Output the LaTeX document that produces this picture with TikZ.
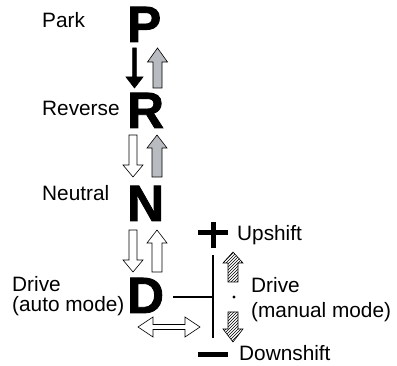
\documentclass[tikz,border=0pt]{standalone}
\usepackage{fontspec}
\setmainfont{Liberation Sans}
\newfontfamily\bigfont[FakeBold=1.6]{Liberation Sans Bold}
\usetikzlibrary{patterns}
\definecolor{arrgray}{HTML}{B8BCC0}
\newcommand{\varrow}[7]{%
  \draw[#1] ({#2-#6},#3) -- ({#2-#6},#4) -- ({#2-#7},#4) -- (#2,#5) -- ({#2+#7},#4) -- ({#2+#6},#4) -- ({#2+#6},#3) -- cycle;}
\tikzset{
  lbl/.style={inner sep=0pt, anchor=base west, font=\fontsize{20.8}{24}\selectfont},
  big/.style={inner sep=0pt, anchor=base west, font=\fontsize{51}{52}\bigfont},
  blk/.style={fill=black, draw=black, line width=0.6pt},
  gry/.style={fill=arrgray, draw=black, line width=0.6pt},
  wht/.style={fill=white, draw=black, line width=0.6pt},
  hat/.style={pattern=north east lines, draw=black, line width=0.6pt},
  bar/.style={line width=5pt},
  ln/.style={line width=1.5pt}
}
\begin{document}
\begin{tikzpicture}[x=1pt,y=-1pt]
\useasboundingbox (0,0) rectangle (397,366);
% big letters
\node[big] (P) at (127,42) {P};
\node[big] (R) at (127,128) {R};
\node[big] (N) at (127,221) {N};
\node[big] (D) at (127,313) {D};
% labels
\node[lbl] (park) at (42,28) {Park};
\node[lbl] (rev) at (42,116) {Reverse};
\node[lbl] (neu) at (42,201) {Neutral};
\node[lbl] (drv) at (12,292) {Drive};
\node[lbl] (auto) at (12,312) {(auto mode)};
\node[lbl] (up) at (237,241) {Upshift};
\node[lbl] (drvm) at (251,293) {Drive};
\node[lbl] (man) at (251,318) {(manual mode)};
\node[lbl] (down) at (239,361) {Downshift};
% P-R arrows
\varrow{blk}{134.5}{48}{77}{88}{1.8}{8.5}
\varrow{gry}{157.5}{88}{62}{48}{4.5}{10}
% R-N arrows
\varrow{wht}{133}{135}{165}{177}{4}{10}
\varrow{gry}{157}{177}{148}{135}{5}{10}
% N-D arrows
\varrow{wht}{133}{230}{260}{272}{4}{10}
\varrow{wht}{157}{272}{243}{230}{5}{10}
% manual gate
\coordinate (j) at (213,297);
\coordinate (jt) at (213,255);
\coordinate (jb) at (213,338);
\draw[ln] (173,297) -- (j);
\draw[ln] (jt) -- (jb);
\draw[bar] (198,233) -- (228,233);
\draw[bar] (213,222) -- (213,248);
\draw[bar] (198,355) -- (228,355);
\fill (234,297) circle (1.6);
\varrow{hat}{233}{282}{263}{252}{5}{10}
\varrow{hat}{233}{312}{329}{342}{5}{10}
% double arrow
\draw[wht] (138,327) -- (153,317) -- (153,324.5) -- (185,324.5) -- (185,317) -- (200,327) -- (185,337) -- (185,329.5) -- (153,329.5) -- (153,337) -- cycle;
\end{tikzpicture}
\end{document}
